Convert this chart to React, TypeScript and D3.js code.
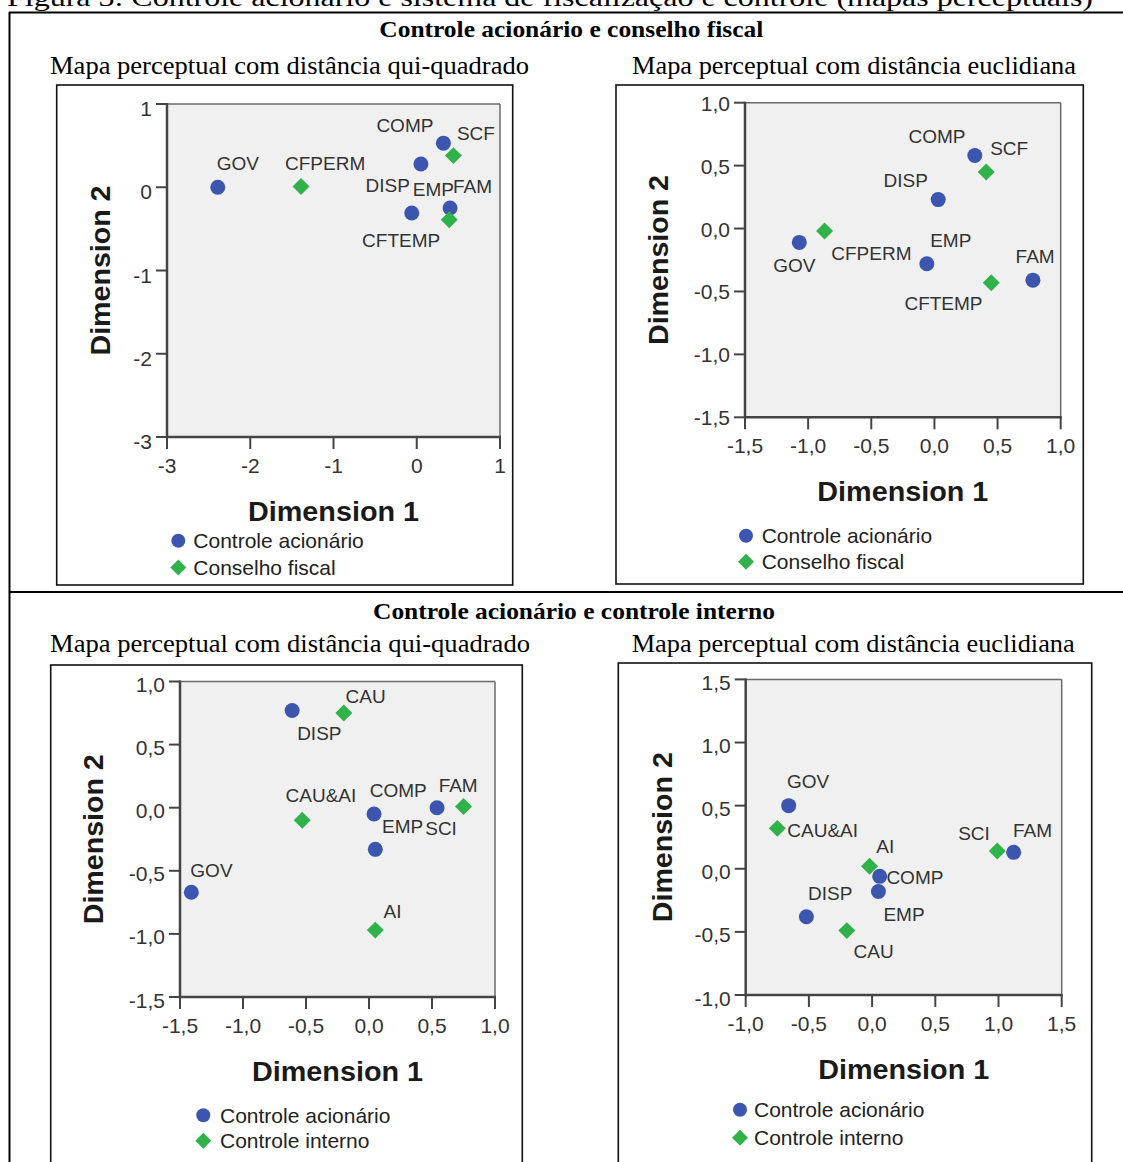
import React from "react";
import * as d3 from "d3";

const W = 1123,
  H = 1162;

// ---- data ----

// controle acionário x conselho fiscal, distância qui-quadrado
const cfChiAcionarioCats = ["GOV", "COMP", "DISP", "EMP", "FAM"];
const cfChiAcionarioDim1 = [-2.39, 0.32, 0.05, -0.06, 0.4];
const cfChiAcionarioDim2 = [0.0, 0.53, 0.28, -0.31, -0.25];
const cfChiConselhoCats = ["CFPERM", "SCF", "CFTEMP"];
const cfChiConselhoDim1 = [-1.39, 0.44, 0.39];
const cfChiConselhoDim2 = [0.01, 0.38, -0.39];

// controle acionário x conselho fiscal, distância euclidiana
const cfEucAcionarioCats = ["GOV", "COMP", "DISP", "EMP", "FAM"];
const cfEucAcionarioDim1 = [-1.07, 0.32, 0.03, -0.06, 0.78];
const cfEucAcionarioDim2 = [-0.11, 0.58, 0.23, -0.28, -0.41];
const cfEucConselhoCats = ["CFPERM", "SCF", "CFTEMP"];
const cfEucConselhoDim1 = [-0.87, 0.41, 0.45];
const cfEucConselhoDim2 = [-0.02, 0.45, -0.43];

// controle acionário x controle interno, distância qui-quadrado
const ciChiAcionarioCats = ["GOV", "DISP", "COMP", "EMP", "FAM"];
const ciChiAcionarioDim1 = [-1.41, -0.61, 0.04, 0.05, 0.54];
const ciChiAcionarioDim2 = [-0.67, 0.77, -0.05, -0.33, 0.0];
const ciChiInternoCats = ["CAU", "CAU&AI", "AI", "SCI"];
const ciChiInternoDim1 = [-0.2, -0.53, 0.05, 0.75];
const ciChiInternoDim2 = [0.75, -0.1, -0.97, 0.01];

// controle acionário x controle interno, distância euclidiana
const ciEucAcionarioCats = ["GOV", "DISP", "COMP", "EMP", "FAM"];
const ciEucAcionarioDim1 = [-0.66, -0.52, 0.06, 0.05, 1.12];
const ciEucAcionarioDim2 = [0.5, -0.38, -0.06, -0.18, 0.13];
const ciEucInternoCats = ["CAU&AI", "AI", "CAU", "SCI"];
const ciEucInternoDim1 = [-0.75, -0.02, -0.2, 0.99];
const ciEucInternoDim2 = [0.32, 0.02, -0.49, 0.14];

// axis domains
const cfChiDomain = [-3, 1];
const cfEucDomain = [-1.5, 1];
const ciChiDomain = [-1.5, 1];
const ciEucDomain = [-1, 1.5];

// text
const caption =
  "Figura 3: Controle acionário e sistema de fiscalização e controle (mapas perceptuais)";
const rowTitles = ["Controle acionário e conselho fiscal", "Controle acionário e controle interno"];
const subTitles = ["Mapa perceptual com distância qui-quadrado", "Mapa perceptual com distância euclidiana"];
const legendAcionario = "Controle acionário";
const legendConselho = "Conselho fiscal";
const legendInterno = "Controle interno";

// label placement next to each point (px offsets, like SPSS puts them)
const labelOffsets: Record<string, [number, number, string]> = {
  "A:GOV": [-1, -17, "start"],
  "A:COMP": [-10, -11, "end"],
  "A:DISP": [-11, 28, "end"],
  "A:EMP": [1, -17.5, "start"],
  "A:FAM": [3, -15, "start"],
  "A:CFPERM": [-16, -16, "start"],
  "A:SCF": [3.5, -16, "start"],
  "A:CFTEMP": [-9, 27.5, "end"],
  "B:GOV": [-26, 29.5, "start"],
  "B:CFPERM": [6.7, 28.6, "start"],
  "B:COMP": [-9.3, -12.4, "end"],
  "B:SCF": [4, -17.3, "start"],
  "B:DISP": [-10.3, -12.7, "end"],
  "B:EMP": [3.3, -17, "start"],
  "B:CFTEMP": [-8.7, 27.4, "end"],
  "B:FAM": [-17.3, -17.4, "start"],
  "C:DISP": [5, 29.2, "start"],
  "C:CAU": [1.7, -10.2, "start"],
  "C:CAU&AI": [-16.7, -17.9, "start"],
  "C:COMP": [-4.3, -17.5, "start"],
  "C:FAM": [1.6, -16.1, "start"],
  "C:EMP": [6.7, -16.1, "start"],
  "C:SCI": [-6.6, 28.1, "end"],
  "C:GOV": [-1, -15.7, "start"],
  "C:AI": [8.3, -12.1, "start"],
  "D:GOV": [-1.7, -17.2, "start"],
  "D:CAU&AI": [10, 8.4, "start"],
  "D:AI": [6.7, -13.5, "start"],
  "D:COMP": [6.7, 7.7, "start"],
  "D:SCI": [-7.4, -11, "end"],
  "D:FAM": [-0.7, -15.3, "start"],
  "D:DISP": [1.6, -16.5, "start"],
  "D:EMP": [5, 29.2, "start"],
  "D:CAU": [6.7, 27.4, "start"],
};

const BLUE = "#3c56b0";
const GREEN = "#30b24a";
const SANS = "Liberation Sans, Arial, sans-serif";
const SERIF = "Liberation Serif, Times New Roman, serif";

const commaFmt = d3
  .formatLocale({ decimal: ",", thousands: ".", grouping: [3], currency: ["", ""], minus: "-" })
  .format(".1f");
const intFmt = d3
  .formatLocale({ decimal: ",", thousands: ".", grouping: [3], currency: ["", ""], minus: "-" })
  .format("d");

const diamond = d3.symbol(d3.symbolSquare, 144)();
const diamondSmall = d3.symbol(d3.symbolSquare, 128)();

function Panel({ cfg }: { cfg: any }) {
  const [px0, px1, py0, py1] = cfg.plot;
  const x = d3.scaleLinear().domain(cfg.domain).range([px0, px1]);
  const y = d3.scaleLinear().domain(cfg.domain).range([py1, py0]);
  const ticks = x.ticks(5);
  const fmt = cfg.fmt;
  const [bx, by, bw, bh] = cfg.box;

  const ptsA = cfg.a.cats.map((c: string, i: number) => ({ c, x: cfg.a.d1[i], y: cfg.a.d2[i] }));
  const ptsB = cfg.b.cats.map((c: string, i: number) => ({ c, x: cfg.b.d1[i], y: cfg.b.d2[i] }));

  const label = (p: any) => {
    const o = labelOffsets[cfg.id + ":" + p.c] || [4, -14, "start"];
    return (
      <text
        key={"l" + p.c}
        x={x(p.x) + o[0]}
        y={y(p.y) + o[1]}
        textAnchor={o[2]}
        fontSize={19}
        fill="#333"
        fontFamily={SANS}
      >
        {p.c}
      </text>
    );
  };

  const lg = cfg.legend;
  return (
    <g>
      <rect x={bx} y={by} width={bw} height={bh} fill="#fff" stroke="#111" strokeWidth={1.6} />
      <rect x={px0} y={py0} width={px1 - px0} height={py1 - py0} fill="#f0f0f0" />
      <line x1={px0} x2={px1} y1={py0} y2={py0} stroke="#6a6a6a" strokeWidth={1.5} />
      <line x1={px1} x2={px1} y1={py0} y2={py1} stroke="#6a6a6a" strokeWidth={1.5} />
      <line x1={px0} x2={px0} y1={py0 - 1} y2={py1 + 1} stroke="#444" strokeWidth={2.5} />
      <line x1={px0 - 1} x2={px1 + 1} y1={py1} y2={py1} stroke="#444" strokeWidth={2.5} />
      {ticks.map((t) => (
        <g key={"y" + t}>
          <line x1={px0 - 11} x2={px0} y1={y(t)} y2={y(t)} stroke="#444" strokeWidth={2} />
          <text
            x={px0 - 15}
            y={y(t) + 7.5 + cfg.yLabelDy}
            textAnchor="end"
            fontSize={21}
            fill="#333"
            fontFamily={SANS}
          >
            {fmt(t)}
          </text>
        </g>
      ))}
      {ticks.map((t) => (
        <g key={"x" + t}>
          <line x1={x(t)} x2={x(t)} y1={py1} y2={py1 + 12} stroke="#444" strokeWidth={2} />
          <text x={x(t)} y={py1 + 35.5} textAnchor="middle" fontSize={21} fill="#333" fontFamily={SANS}>
            {fmt(t)}
          </text>
        </g>
      ))}
      <text
        x={(px0 + px1) / 2}
        y={py1 + 84}
        textAnchor="middle"
        fontSize={28}
        fontWeight="bold"
        fill="#1a1a1a"
        fontFamily={SANS}
        textLength={171}
        lengthAdjust="spacingAndGlyphs"
      >
        Dimension 1
      </text>
      <text
        transform={`translate(${px0 - cfg.yTitleDx},${(py0 + py1) / 2}) rotate(-90)`}
        textAnchor="middle"
        fontSize={28}
        fontWeight="bold"
        fill="#1a1a1a"
        fontFamily={SANS}
        textLength={170}
        lengthAdjust="spacingAndGlyphs"
      >
        Dimension 2
      </text>
      {ptsA.map((p: any) => (
        <circle key={"a" + p.c} cx={x(p.x)} cy={y(p.y)} r={7.5} fill={BLUE} />
      ))}
      {ptsB.map((p: any) => (
        <path
          key={"b" + p.c}
          d={diamond as string}
          transform={`translate(${x(p.x)},${y(p.y)}) rotate(45)`}
          fill={GREEN}
        />
      ))}
      {ptsA.map(label)}
      {ptsB.map(label)}
      <circle cx={lg.mx} cy={lg.y[0] - 7.5} r={7} fill={BLUE} />
      <text x={lg.tx} y={lg.y[0]} fontSize={21} fill="#222" fontFamily={SANS}>
        {legendAcionario}
      </text>
      <path
        d={diamondSmall as string}
        transform={`translate(${lg.mx},${lg.y[1] - 7.5}) rotate(45)`}
        fill={GREEN}
      />
      <text x={lg.tx} y={lg.y[1]} fontSize={21} fill="#222" fontFamily={SANS}>
        {cfg.nameB}
      </text>
    </g>
  );
}

const panels = [
  {
    id: "A",
    box: [56.7, 85, 456, 500],
    plot: [167, 500, 104, 437],
    domain: cfChiDomain,
    fmt: intFmt,
    yLabelDy: 4.5,
    yTitleDx: 57,
    legend: { mx: 178.3, tx: 193.3, y: [548.3, 575] },
    a: { cats: cfChiAcionarioCats, d1: cfChiAcionarioDim1, d2: cfChiAcionarioDim2 },
    b: { cats: cfChiConselhoCats, d1: cfChiConselhoDim1, d2: cfChiConselhoDim2 },
    nameB: legendConselho,
  },
  {
    id: "B",
    box: [616, 85, 467.3, 499],
    plot: [745, 1060.7, 102.7, 417.3],
    domain: cfEucDomain,
    fmt: commaFmt,
    yLabelDy: 0.5,
    yTitleDx: 77,
    legend: { mx: 746, tx: 761.7, y: [543.3, 569.3] },
    a: { cats: cfEucAcionarioCats, d1: cfEucAcionarioDim1, d2: cfEucAcionarioDim2 },
    b: { cats: cfEucConselhoCats, d1: cfEucConselhoDim1, d2: cfEucConselhoDim2 },
    nameB: legendConselho,
  },
  {
    id: "C",
    box: [50.7, 665, 471.6, 520],
    plot: [180, 495, 681.5, 997],
    domain: ciChiDomain,
    fmt: commaFmt,
    yLabelDy: 3,
    yTitleDx: 77,
    legend: { mx: 203.3, tx: 220, y: [1122.7, 1148.2] },
    a: { cats: ciChiAcionarioCats, d1: ciChiAcionarioDim1, d2: ciChiAcionarioDim2 },
    b: { cats: ciChiInternoCats, d1: ciChiInternoDim1, d2: ciChiInternoDim2 },
    nameB: legendInterno,
  },
  {
    id: "D",
    box: [618.3, 663, 473.4, 520],
    plot: [745.7, 1061.7, 679.4, 995],
    domain: ciEucDomain,
    fmt: commaFmt,
    yLabelDy: 3,
    yTitleDx: 74,
    legend: { mx: 740, tx: 754, y: [1117.2, 1145.3] },
    a: { cats: ciEucAcionarioCats, d1: ciEucAcionarioDim1, d2: ciEucAcionarioDim2 },
    b: { cats: ciEucInternoCats, d1: ciEucInternoDim1, d2: ciEucInternoDim2 },
    nameB: legendInterno,
  },
];

export default function App() {
  return (
    <svg
      width={W}
      height={H}
      style={{ position: "absolute", left: 0, top: 0, background: "#fff" }}
    >
      <rect width={W} height={H} fill="#fff" />
      {/* caption, cut at the top of the page */}
      <text x={7} y={6} fontSize={26} fontFamily={SERIF} fill="#000" textLength={1086} lengthAdjust="spacingAndGlyphs">
        {caption}
      </text>
      {/* table lines */}
      <line x1={9} x2={W} y1={12.5} y2={12.5} stroke="#000" strokeWidth={2} />
      <line x1={9.5} x2={9.5} y1={12} y2={H} stroke="#000" strokeWidth={2} />
      <line x1={9} x2={W} y1={592} y2={592} stroke="#000" strokeWidth={2} />

      <text x={571.3} y={36.7} textAnchor="middle" fontSize={24} fontWeight="bold" fontFamily={SERIF} textLength={384} lengthAdjust="spacingAndGlyphs">
        {rowTitles[0]}
      </text>
      <text x={50} y={74} fontSize={26} fontFamily={SERIF} textLength={479} lengthAdjust="spacingAndGlyphs">
        {subTitles[0]}
      </text>
      <text x={632} y={74} fontSize={26} fontFamily={SERIF} textLength={444} lengthAdjust="spacingAndGlyphs">
        {subTitles[1]}
      </text>

      <text x={574} y={619} textAnchor="middle" fontSize={24} fontWeight="bold" fontFamily={SERIF} textLength={402} lengthAdjust="spacingAndGlyphs">
        {rowTitles[1]}
      </text>
      <text x={50} y={652} fontSize={26} fontFamily={SERIF} textLength={480} lengthAdjust="spacingAndGlyphs">
        {subTitles[0]}
      </text>
      <text x={631.7} y={652} fontSize={26} fontFamily={SERIF} textLength={443} lengthAdjust="spacingAndGlyphs">
        {subTitles[1]}
      </text>

      {panels.map((p) => (
        <Panel key={p.id} cfg={p} />
      ))}
    </svg>
  );
}
